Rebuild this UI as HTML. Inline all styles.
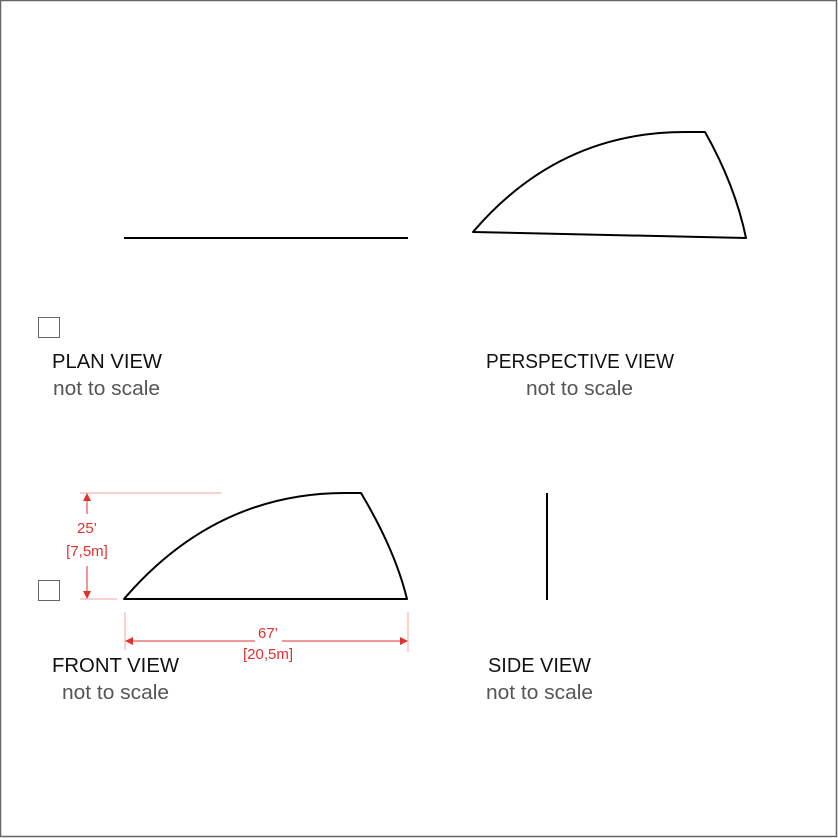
<!DOCTYPE html>
<html><head><style>
html,body{margin:0;padding:0;background:#fff}
svg{display:block}
text{font-family:"Liberation Sans",sans-serif}
</style></head><body>
<svg width="838" height="838" viewBox="0 0 838 838" xmlns="http://www.w3.org/2000/svg">
<rect x="0.5" y="0.5" width="836" height="836" fill="#fff" stroke="#666" stroke-width="1.5"/>
<!-- plan view -->
<line x1="124" y1="238" x2="408" y2="238" stroke="#000" stroke-width="2"/>
<!-- perspective -->
<path d="M473 232 Q560 130 690 132 L705 132 Q735 185 746 238 Z" fill="none" stroke="#000" stroke-width="2" stroke-linejoin="round"/>
<!-- front -->
<path d="M124 599 Q215 493 345 493 L361 493 Q395 550 407 599 Z" fill="none" stroke="#000" stroke-width="2" stroke-linejoin="round"/>
<!-- side -->
<line x1="547" y1="493" x2="547" y2="600" stroke="#000" stroke-width="2"/>
<!-- checkboxes -->
<rect x="38.5" y="317.5" width="21" height="20" fill="none" stroke="#666" stroke-width="1"/>
<rect x="38.5" y="580.5" width="21" height="20" fill="none" stroke="#666" stroke-width="1"/>
<!-- dimensions -->
<g stroke="#f4a0a0" stroke-width="1">
<line x1="80" y1="493" x2="221" y2="493"/>
<line x1="80" y1="599" x2="117" y2="599"/>
<line x1="125" y1="612" x2="125" y2="650"/>
<line x1="408" y1="612" x2="408" y2="652"/>
</g>
<g stroke="#e03030" stroke-width="1">
<line x1="87" y1="496" x2="87" y2="514"/>
<line x1="87" y1="566" x2="87" y2="596"/>
<line x1="128" y1="641" x2="255" y2="641"/>
<line x1="282" y1="641" x2="405" y2="641"/>
</g>
<g fill="#e03030">
<path d="M87 493 L83 501 L91 501 Z"/>
<path d="M87 599 L83 591 L91 591 Z"/>
<path d="M125 641 L133 637 L133 645 Z"/>
<path d="M408 641 L400 637 L400 645 Z"/>
</g>
<g fill="#e03030" font-size="15" text-anchor="middle">
<text x="87" y="533">25’</text>
<text x="87" y="556">[7,5m]</text>
<text x="268" y="638">67’</text>
<text x="268" y="659">[20,5m]</text>
</g>
<!-- labels -->
<g font-size="20">
<text x="52" y="368" fill="#111" textLength="110" lengthAdjust="spacingAndGlyphs">PLAN VIEW</text>
<text x="53" y="395" fill="#555" textLength="107" lengthAdjust="spacingAndGlyphs">not to scale</text>
<text x="486" y="368" fill="#111" textLength="188" lengthAdjust="spacingAndGlyphs">PERSPECTIVE VIEW</text>
<text x="526" y="395" fill="#555" textLength="107" lengthAdjust="spacingAndGlyphs">not to scale</text>
<text x="52" y="672" fill="#111" textLength="127" lengthAdjust="spacingAndGlyphs">FRONT VIEW</text>
<text x="62" y="699" fill="#555" textLength="107" lengthAdjust="spacingAndGlyphs">not to scale</text>
<text x="488" y="672" fill="#111" textLength="103" lengthAdjust="spacingAndGlyphs">SIDE VIEW</text>
<text x="486" y="699" fill="#555" textLength="107" lengthAdjust="spacingAndGlyphs">not to scale</text>
</g>
</svg>
</body></html>
